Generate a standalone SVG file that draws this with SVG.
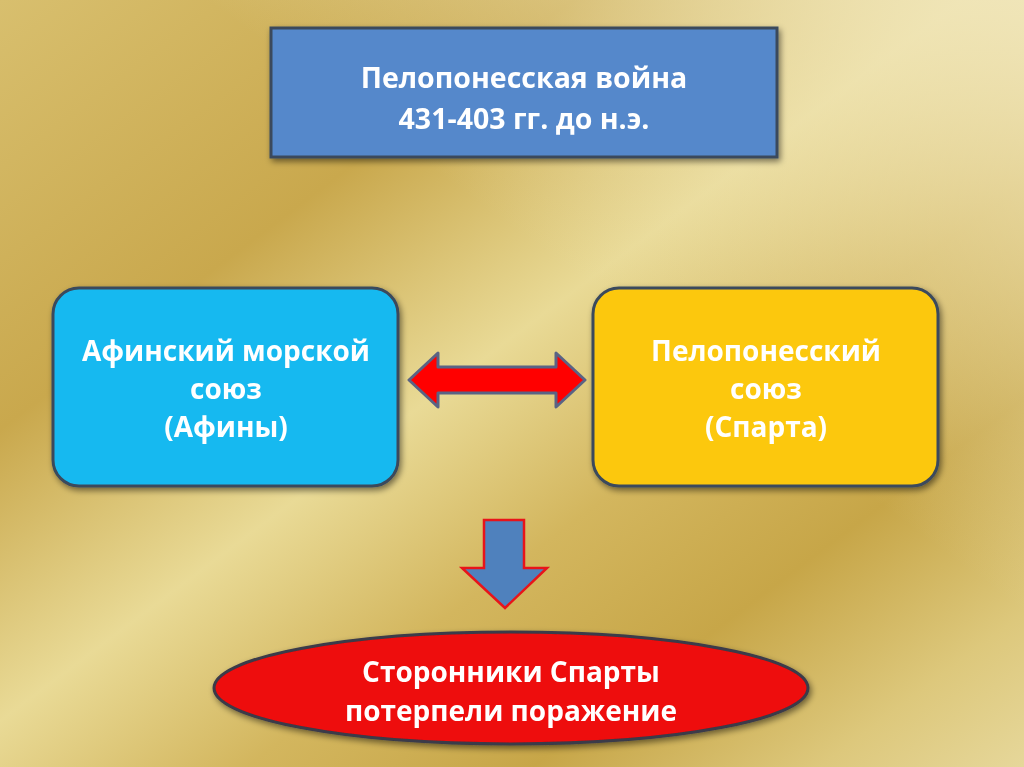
<svg xmlns="http://www.w3.org/2000/svg" width="1024" height="767" viewBox="0 0 1024 767">
<defs>
<linearGradient id="bg" x1="0" y1="0" x2="1" y2="1">
<stop offset="0" stop-color="#d8bf6e"/>
<stop offset="0.28" stop-color="#c9a84d"/>
<stop offset="0.47" stop-color="#e9da96"/>
<stop offset="0.62" stop-color="#d3b65e"/>
<stop offset="0.76" stop-color="#c7a648"/>
<stop offset="0.9" stop-color="#ddc87c"/>
<stop offset="1" stop-color="#e6d79a"/>
</linearGradient>
<linearGradient id="bgTR" x1="1" y1="0" x2="0.6" y2="0.4">
<stop offset="0" stop-color="#f1e7bd" stop-opacity="0.9"/>
<stop offset="1" stop-color="#f1e7bd" stop-opacity="0"/>
</linearGradient>
<filter id="sh" x="-10%" y="-10%" width="120%" height="130%">
<feGaussianBlur in="SourceAlpha" stdDeviation="3"/>
<feOffset dx="2" dy="3" result="b"/>
<feComponentTransfer><feFuncA type="linear" slope="0.5"/></feComponentTransfer>
<feMerge><feMergeNode/><feMergeNode in="SourceGraphic"/></feMerge>
</filter>
</defs>
<style>
.t{font-family:"Open Sans","Noto Sans","Liberation Sans",sans-serif;font-weight:bold;fill:#ffffff;text-anchor:middle;font-size:28px}
.tt{font-size:28.5px}
.box{stroke:#3a4a5c;stroke-width:3}
</style>
<rect width="1024" height="767" fill="url(#bg)"/>
<rect width="1024" height="767" fill="url(#bgTR)"/>

<g id="title" filter="url(#sh)">
<rect x="271" y="28" width="506" height="129" fill="#5588cb" class="box"/>
<text class="t tt" x="524" y="88">Пелопонесская война</text>
<text class="t tt" x="524" y="129">431-403 гг. до н.э.</text>
</g>

<g id="athens" filter="url(#sh)">
<rect x="53" y="288" width="345" height="198" rx="26" fill="#19b9f0" class="box"/>
<text class="t" x="226" y="361">Афинский морской</text>
<text class="t" x="226" y="399">союз</text>
<text class="t" x="226" y="437">(Афины)</text>
</g>

<g id="sparta" filter="url(#sh)">
<rect x="593" y="288" width="345" height="198" rx="26" fill="#fcc80c" class="box"/>
<text class="t" x="766" y="361">Пелопонесский</text>
<text class="t" x="766" y="399">союз</text>
<text class="t" x="766" y="437">(Спарта)</text>
</g>

<g id="result" filter="url(#sh)">
<ellipse cx="511" cy="688" rx="297" ry="56" fill="#ee0a0a" stroke="#3a3a48" stroke-width="3"/>
<text class="t" x="511" y="682">Сторонники Спарты</text>
<text class="t" x="511" y="721">потерпели поражение</text>
</g>

<g id="connectors">
<polygon points="409,380 438,353 438,367 556,367 556,353 585,380 556,407 556,393 438,393 438,407" fill="#ff0000" stroke="#5a6384" stroke-width="3" stroke-linejoin="round"/>
<polygon points="484,520 524,520 524,568 547,568 505,608 462,568 484,568" fill="#4f81bd" stroke="#e8141a" stroke-width="2.5"/>
</g>
</svg>
